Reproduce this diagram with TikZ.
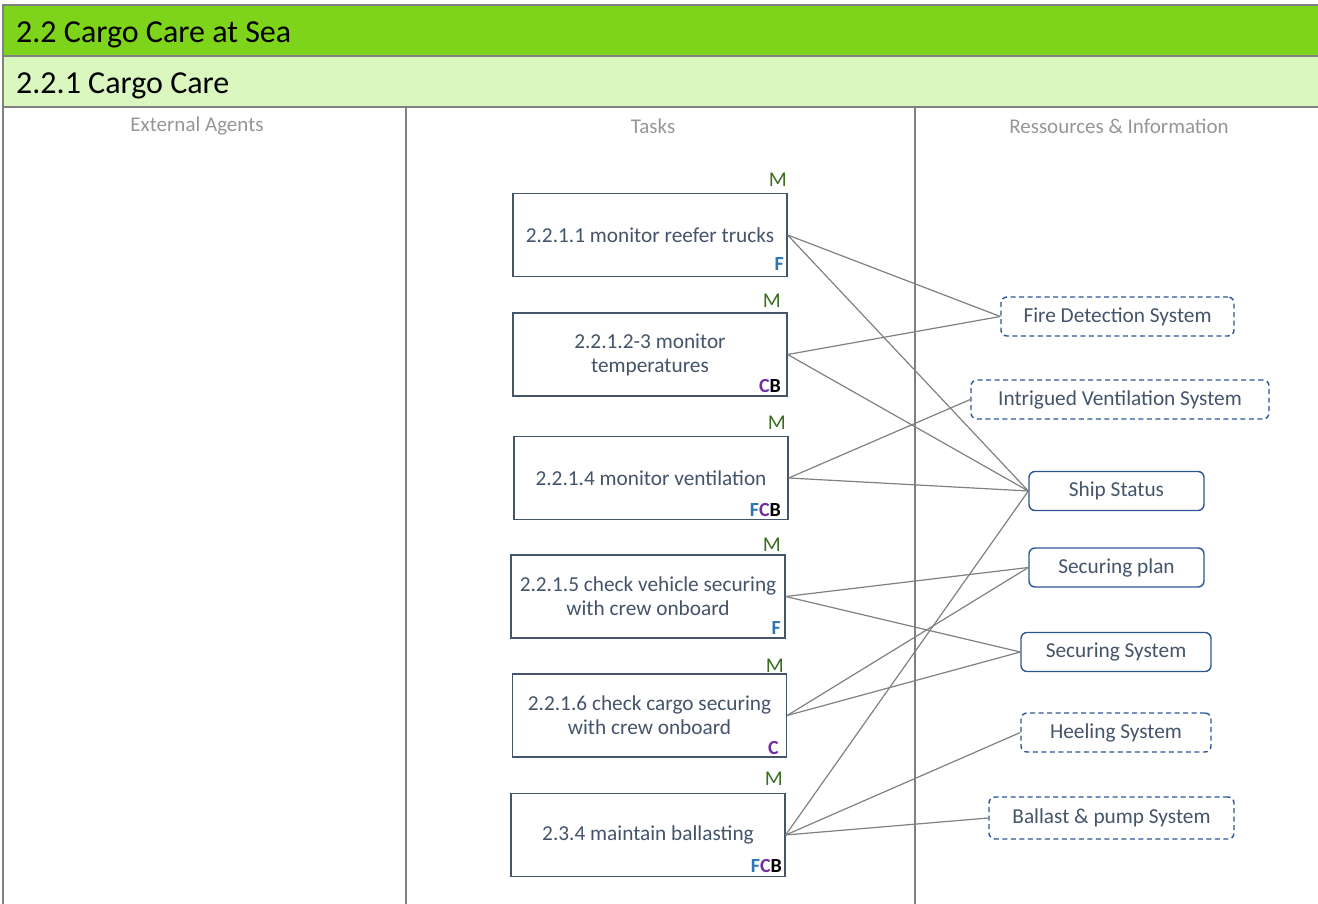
\documentclass[tikz,border=0pt]{standalone}
\usepackage{fontspec}
\setmainfont{Carlito}
\definecolor{barGreen}{RGB}{126,211,27}
\definecolor{paleGreen}{RGB}{218,247,192}
\definecolor{frameGray}{RGB}{128,128,128}
\definecolor{slate}{RGB}{68,84,106}
\definecolor{resBlue}{RGB}{47,85,151}
\definecolor{mGreen}{RGB}{59,110,34}
\definecolor{fBlue}{RGB}{46,117,182}
\definecolor{cPurple}{RGB}{112,48,160}
\definecolor{headGray}{RGB}{150,150,150}
\begin{document}
\begin{tikzpicture}[x=1pt,y=-1pt,
  taskbox/.style={draw=slate,line width=1.3pt,fill=white,minimum width=274pt,minimum height=83pt,
    align=center,text=slate,inner sep=2pt,font=\fontsize{21.3}{24}\selectfont},
  resbox/.style={draw=resBlue,line width=1.4pt,rounded corners=6pt,fill=white,minimum height=39pt,
    text=slate,font=\fontsize{21.3}{24}\selectfont},
  optres/.style={resbox,dash pattern=on 5pt off 3.5pt},
  tag/.style={inner sep=0pt,font=\bfseries\fontsize{20}{22}\selectfont,anchor=base east},
  mtag/.style={inner sep=0pt,text=mGreen,font=\fontsize{21}{23}\selectfont,anchor=base east},
  colhead/.style={text=headGray,font=\fontsize{21}{24}\selectfont,anchor=base,inner sep=0pt},
  conn/.style={draw=frameGray,line width=1.2pt},
  frame/.style={draw=frameGray,line width=1.8pt},
  bartitle/.style={anchor=base west,inner sep=0pt,font=\fontsize{32}{36}\selectfont}]
\useasboundingbox (0,0) rectangle (1318,904);

% section header bars
\fill[barGreen] (3,5) rectangle (1318,56);
\fill[paleGreen] (3,56) rectangle (1318,107);
\draw[frame] (1318,5) -- (3,5) -- (3,904);
\draw[frame] (3,56) -- (1318,56);
\draw[frame] (3,107) -- (1318,107);
\node[bartitle] (sec) at (16,43) {2.2 Cargo Care at Sea};
\node[bartitle] (sub) at (16,94) {2.2.1 Cargo Care};

% column separators and headings
\draw[frame] (406,107) -- (406,904);
\draw[frame] (915,107) -- (915,904);
\node[colhead] (hext) at (197,132) {External Agents};
\node[colhead] (htask) at (653,134) {Tasks};
\node[colhead] (hres) at (1119,134) {Ressources \& Information};

% tasks
\node[taskbox] (t1) at (650,235) {2.2.1.1 monitor reefer trucks};
\node[taskbox] (t2) at (650,354.5) {2.2.1.2-3 monitor\\temperatures};
\node[taskbox] (t3) at (651,478) {2.2.1.4 monitor ventilation};
\node[taskbox] (t4) at (648,596.5) {2.2.1.5 check vehicle securing\\with crew onboard};
\node[taskbox] (t5) at (649.5,715.5) {2.2.1.6 check cargo securing\\with crew onboard};
\node[taskbox] (t6) at (648,835) {2.3.4 maintain ballasting};

% task markers
\node[mtag] (m1) at (787,187) {M};
\node[mtag] (m2) at (781,307) {M};
\node[mtag] (m3) at (786,429) {M};
\node[mtag] (m4) at (781,551) {M};
\node[mtag] (m5) at (784,672) {M};
\node[mtag] (m6) at (783,785) {M};
\node[tag,text=fBlue] (r1) at (784,271) {F};
\node[tag] (r2) at (781,392) {\textcolor{cPurple}{C}B};
\node[tag] (r3) at (781,516) {\textcolor{fBlue}{F}\textcolor{cPurple}{C}B};
\node[tag,text=fBlue] (r4) at (781,634) {F};
\node[tag,text=cPurple] (r5) at (779,754) {C};
\node[tag] (r6) at (782,872) {\textcolor{fBlue}{F}\textcolor{cPurple}{C}B};

% resources and information
\node[optres,minimum width=233pt] (fire) at (1117.5,316.5) {Fire Detection System};
\node[optres,minimum width=298pt] (vent) at (1120,399.5) {Intrigued Ventilation System};
\node[resbox,minimum width=175pt] (ship) at (1116.5,491) {Ship Status};
\node[resbox,minimum width=175pt] (plan) at (1116.5,567.5) {Securing plan};
\node[resbox,minimum width=190pt] (secsys) at (1116,652) {Securing System};
\node[optres,minimum width=190pt] (heel) at (1116,732.5) {Heeling System};
\node[optres,minimum width=245pt,minimum height=42pt] (ballast) at (1111.5,818) {Ballast \& pump System};

% links between tasks and resources
\draw[conn] (t1.east) -- (fire.west);
\draw[conn] (t1.east) -- (ship.west);
\draw[conn] (t2.east) -- (fire.west);
\draw[conn] (t2.east) -- (ship.west);
\draw[conn] (t3.east) -- (vent.west);
\draw[conn] (t3.east) -- (ship.west);
\draw[conn] (t4.east) -- (plan.west);
\draw[conn] (t4.east) -- (secsys.west);
\draw[conn] (t5.east) -- (plan.west);
\draw[conn] (t5.east) -- (secsys.west);
\draw[conn] (t6.east) -- (ship.west);
\draw[conn] (t6.east) -- (heel.west);
\draw[conn] (t6.east) -- (ballast.west);
\end{tikzpicture}
\end{document}
